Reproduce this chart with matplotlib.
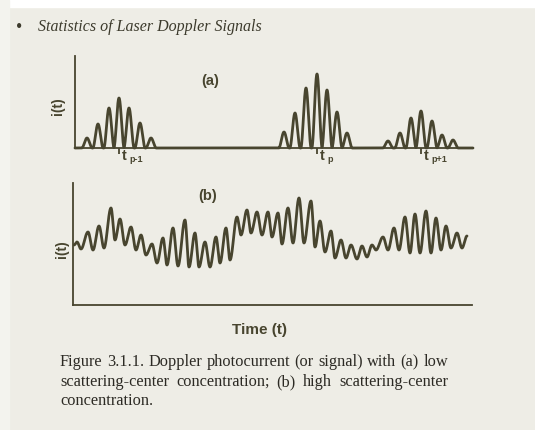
import numpy as np
import matplotlib
matplotlib.use("Agg")
import matplotlib.pyplot as plt
from matplotlib.patches import Rectangle

# ---------------------------------------------------------
# page look
# ---------------------------------------------------------
W, H = 535, 430
PAPER = "#eeede6"
INK = "#48452f"
SANS = "Liberation Sans"
SERIF = "Liberation Serif"

# ---------------------------------------------------------
# (a) low concentration: separate bursts (peak time, peak height)
# ---------------------------------------------------------
burst_times = [
    [12, 23, 34, 44, 54, 65, 76],
    [209, 220, 231, 242, 252, 262, 272],
    [313, 325, 336, 346, 357, 367, 378],
]
burst_heights = [
    [10, 24, 40, 50, 40, 25, 10],
    [16, 35, 60, 74, 58, 36, 15],
    [7, 15, 30, 37, 27, 13, 8],
]
burst_centres = [44, 242, 346]
centre_subs = ["p-1", "p", "p+1"]

# ---------------------------------------------------------
# (b) high concentration: successive maxima / minima of the signal
# ---------------------------------------------------------
b_times = [1, 4, 8, 15, 20, 26, 31, 38, 42, 47, 52, 58, 63, 68, 73, 79,
           84, 90, 94, 100, 105, 112, 116, 122, 126, 132, 137, 143, 147,
           153, 157, 164, 168, 174, 178, 184, 189, 195, 199, 205, 209,
           215, 220, 226, 231, 238, 242, 247, 252, 258, 262, 268, 273,
           278, 284, 289, 294, 299, 303, 310, 315, 321, 326, 332, 337,
           342, 347, 353, 358, 363, 368, 373, 378, 384, 389, 394]
b_values = [60, 63, 56, 73, 55, 79, 57, 97, 65, 86, 60, 78, 55, 70, 50, 61,
            42, 67, 40, 77, 39, 85, 38, 72, 38, 63, 38, 68, 42,
            77, 45, 88, 70, 95, 72, 93, 70, 93, 68, 92, 61,
            97, 62, 107, 62, 104, 58, 84, 53, 74, 47, 65, 47,
            60, 46, 59, 48, 60, 55, 68, 55, 77, 55, 88, 52,
            91, 52, 94, 52, 87, 55, 79, 57, 72, 57, 69]

T_END_A = 398
T_END_B = 399


def px(x, y):
    # pixel position on the page -> figure fraction
    return x / W, 1 - y / H


def burst_signal(t, times, heights, width=10.5):
    sig = np.zeros_like(t)
    for tc, h in zip(times, heights):
        m = np.abs(t - tc) < width / 2
        sig[m] += h * np.cos(np.pi * (t[m] - tc) / width) ** 2
    return sig


def through_extrema(times, values, n=30):
    tt, vv = [], []
    for i in range(len(times) - 1):
        s = np.linspace(0, 1, n, endpoint=False)
        tt.append(times[i] + (times[i + 1] - times[i]) * s)
        vv.append(values[i] + (values[i + 1] - values[i]) * (1 - np.cos(np.pi * s)) / 2)
    tt.append([times[-1]])
    vv.append([values[-1]])
    return np.concatenate(tt), np.concatenate(vv)


def bare_axes(ax):
    for side in ["top", "right"]:
        ax.spines[side].set_visible(False)
    for side in ["left", "bottom"]:
        ax.spines[side].set_color(INK)
        ax.spines[side].set_linewidth(1.3)
    ax.set_yticks([])
    ax.set_facecolor("none")


fig = plt.figure(figsize=(W / 100, H / 100), dpi=100, facecolor=PAPER)

# white scan margin at the top
fig.patches.append(Rectangle((0, 1 - 7 / H), 1, 7 / H, transform=fig.transFigure,
                             color="white", zorder=-1))
fig.patches.append(Rectangle((0, 0), 9 / W, 1, transform=fig.transFigure,
                             color="#f3f3ee", zorder=-1))

# ---------------------------------------------------------
# panel (a)
# ---------------------------------------------------------
ax_a = fig.add_axes([75 / W, 1 - 148 / H, 398 / W, 92 / H])
bare_axes(ax_a)
t = np.linspace(0, T_END_A, 4000)
sig = np.zeros_like(t)
for times, heights in zip(burst_times, burst_heights):
    sig += burst_signal(t, times, heights)
ax_a.plot(t, sig, color=INK, lw=2.0, clip_on=False, solid_capstyle="round")
ax_a.set_xlim(0, T_END_A)
ax_a.set_ylim(0, 92)
ax_a.set_xticks(burst_centres)
ax_a.set_xticklabels([])
ax_a.tick_params(axis="x", direction="out", length=4, width=1.3, color=INK)

for tc, sub in zip(burst_centres, centre_subs):
    ax_a.annotate("t", xy=(tc, 0), xycoords="data", xytext=(2.2, -8.8),
                  textcoords="offset points", ha="left", va="baseline",
                  fontsize=10.5, fontweight="bold", family=SANS, color=INK)
    ax_a.annotate(sub, xy=(tc, 0), xycoords="data", xytext=(7.6, -10.0),
                  textcoords="offset points", ha="left", va="baseline",
                  fontsize=6.5, fontweight="bold", family=SANS, color=INK)

# ---------------------------------------------------------
# panel (b)
# ---------------------------------------------------------
ax_b = fig.add_axes([73 / W, 1 - 305 / H, 399 / W, 122 / H])
bare_axes(ax_b)
tb, vb = through_extrema(b_times, b_values)
ax_b.plot(tb, vb, color=INK, lw=2.0, solid_capstyle="round")
ax_b.set_xlim(0, T_END_B)
ax_b.set_ylim(0, 122)
ax_b.set_xticks([])

# ---------------------------------------------------------
# labels
# ---------------------------------------------------------
lab = dict(family=SANS, fontweight="bold", color=INK, ha="center", va="center")
fig.text(*px(210, 81.5), "(a)", fontsize=10.5, **lab)
fig.text(*px(208, 195.5), "(b)", fontsize=10.5, **lab)
fig.text(*px(57.5, 106), "i(t)", fontsize=10, rotation=90, **lab)
fig.text(*px(61.5, 249), "i(t)", fontsize=10, rotation=90, **lab)
fig.text(*px(260, 330), "Time (t)", fontsize=11, **lab)

# header
fig.text(*px(19, 27), "\u2022", fontsize=13, family=SERIF, color="#3c3a2c",
         ha="center", va="center")
fig.text(*px(38, 31), "Statistics of Laser Doppler Signals", fontsize=11.5,
         family=SERIF, style="italic", color="#3c3a2c", ha="left", va="baseline")

# caption, justified like the printed page
caption = [
    "Figure 3.1.1. Doppler photocurrent (or signal) with (a) low",
    "scattering-center concentration; (b) high scattering-center",
    "concentration.",
]
cap_base = [366, 386, 405]
cap_left, cap_right = 60, 448
cap_style = dict(fontsize=11.8, family=SERIF, color="#2c2a24", va="baseline", ha="left")

renderer = fig.canvas.get_renderer()
for k, (line, yb) in enumerate(zip(caption, cap_base)):
    if k == len(caption) - 1:
        fig.text(*px(cap_left, yb), line, **cap_style)
        continue
    words = line.split(" ")
    widths = []
    for w in words:
        tmp = fig.text(0, 0, w, **cap_style)
        widths.append(tmp.get_window_extent(renderer).width)
        tmp.remove()
    gap = (cap_right - cap_left - sum(widths)) / (len(words) - 1)
    x = cap_left
    for w, wd in zip(words, widths):
        fig.text(*px(x, yb), w, **cap_style)
        x += wd + gap

fig.savefig("out.png", dpi=100, facecolor=PAPER)
